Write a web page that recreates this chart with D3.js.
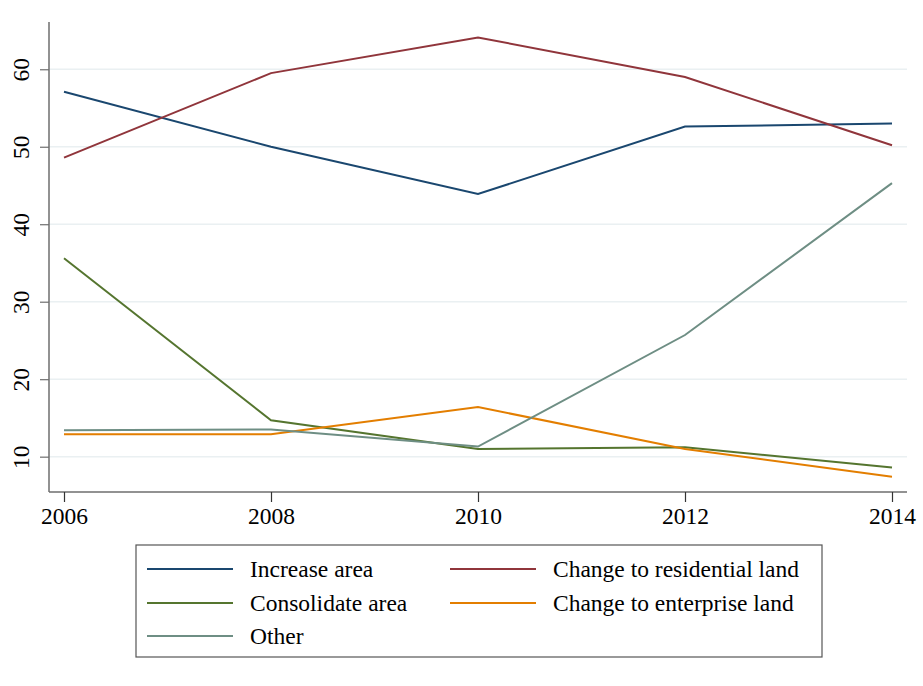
<!DOCTYPE html>
<html><head><meta charset="utf-8">
<script src="https://cdn.jsdelivr.net/npm/d3@7"></script>
<style>body{margin:0;background:#fff;} svg{display:block;}</style>
</head><body>
<svg id="chart" width="923" height="686"></svg>
<script>
const years = [2006, 2008, 2010, 2012, 2014];
const yTicks = [10, 20, 30, 40, 50, 60];
const seriesNames = ["Increase area", "Change to residential land", "Consolidate area", "Change to enterprise land", "Other"];
const seriesColors = ["#1a476f", "#90353b", "#55752f", "#e37e00", "#6e8e84"];
const increaseArea = [57.1, 50.0, 43.9, 52.6, 53.0];
const residential = [48.6, 59.5, 64.1, 59.0, 50.2];
const consolidate = [35.6, 14.7, 11.0, 11.2, 8.6];
const enterprise = [12.9, 12.9, 16.4, 11.0, 7.4];
const other = [13.4, 13.5, 11.3, 25.7, 45.3];
const seriesValues = [increaseArea, residential, consolidate, enterprise, other];

const svg = d3.select("#chart");
const x = d3.scaleLinear().domain([2006, 2014]).range([64, 892]);
const y = d3.scaleLinear().domain([5.44, 66.1]).range([492, 22]);
const font = "'Liberation Serif', 'Times New Roman', serif";

// gridlines
svg.append("g").selectAll("line").data(yTicks).join("line")
  .attr("x1", 49).attr("x2", 907)
  .attr("y1", d => y(d)).attr("y2", d => y(d))
  .attr("stroke", "#eaf0f2").attr("stroke-width", 1.5);

// lines
const line = d3.line().x((d, i) => x(years[i])).y(d => y(d));
seriesValues.forEach((vals, i) => {
  svg.append("path").datum(vals).attr("d", line)
    .attr("fill", "none").attr("stroke", seriesColors[i]).attr("stroke-width", 2);
});

// y axis
const yAxis = svg.append("g").attr("transform", "translate(49,0)")
  .call(d3.axisLeft(y).tickValues(yTicks).tickSize(9).tickPadding(0).tickFormat(d3.format("d")));
yAxis.select(".domain").attr("stroke", "#6e6e6e").attr("stroke-width", 1.5).attr("d", "M0,22V492");
yAxis.selectAll(".tick line").attr("stroke", "#6e6e6e").attr("stroke-width", 1.2);
yAxis.selectAll(".tick text")
  .attr("font-family", font).attr("font-size", 23.5).attr("fill", "#000")
  .attr("text-anchor", "middle").attr("x", 0).attr("dy", 0)
  .attr("transform", "translate(-28,0) rotate(-90) translate(0,8)");

// x axis
const xAxis = svg.append("g").attr("transform", "translate(0,492)")
  .call(d3.axisBottom(x).tickValues(years).tickSize(10).tickPadding(5).tickFormat(d3.format("d")));
xAxis.select(".domain").attr("stroke", "#6e6e6e").attr("stroke-width", 1.5).attr("d", "M49,0H907");
xAxis.selectAll(".tick line").attr("stroke", "#333").attr("stroke-width", 1.2);
xAxis.selectAll(".tick text")
  .attr("font-family", font).attr("font-size", 23.5).attr("fill", "#000");

// legend
const lg = svg.append("g");
lg.append("rect").attr("x", 136).attr("y", 545).attr("width", 686).attr("height", 112)
  .attr("fill", "#fff").attr("stroke", "#555").attr("stroke-width", 1.2);
const colX = [147, 450];
const rowY = [569, 603, 636];
seriesNames.forEach((name, i) => {
  const cx = colX[i % 2], cy = rowY[Math.floor(i / 2)];
  lg.append("line").attr("x1", cx).attr("x2", cx + 86).attr("y1", cy).attr("y2", cy)
    .attr("stroke", seriesColors[i]).attr("stroke-width", 2);
  lg.append("text").attr("x", cx + 103).attr("y", cy + 8)
    .attr("font-family", font).attr("font-size", 23.5).attr("fill", "#000").text(name);
});
</script>
</body></html>
